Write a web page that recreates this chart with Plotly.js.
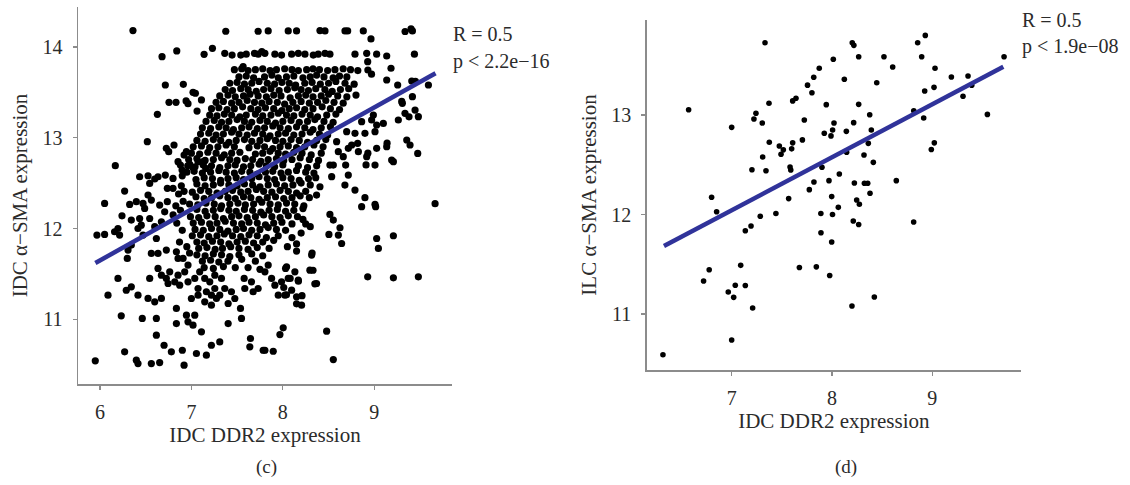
<!DOCTYPE html>
<html>
<head>
<meta charset="utf-8">
<script src="https://cdn.plot.ly/plotly-3.0.1.min.js"></script>
<style>html,body{margin:0;padding:0;background:#fff;}#chart{width:1130px;height:485px;}</style>
</head>
<body>
<div id="chart"></div>
<script>
// ---------- Panel (c): IDC DDR2 vs IDC alpha-SMA ----------
var idcOuter = [
[6.361,14.18],[7.376,14.173],[7.73,14.173],[7.84,14.176],[8.059,14.176],[8.15,14.176],[8.406,14.18],[8.461,14.176],[8.68,14.176],[8.709,14.176],[8.88,14.176],[9.337,14.17],[9.402,14.198],[9.417,14.176],
[8.964,14.088],
[6.679,13.893],[6.84,13.956],[7.139,13.919],[7.23,13.985],[7.365,13.93],[7.445,13.91],[7.54,13.91],[7.6,13.92],[7.69,13.93],[7.77,13.95],[7.731,13.92],[7.804,13.93],[7.913,13.92],[7.986,13.91],[8.096,13.92],[8.169,13.93],[8.242,13.92],[8.333,13.91],[8.387,13.92],[8.461,13.93],[8.515,13.92],[8.789,13.92],[8.917,13.93],[9.026,13.92],[9.136,13.9],[9.439,13.92],[8.928,13.838],
[7.566,13.783],[9.136,13.636],[9.183,13.765],[8.93,13.746],[8.97,13.70],
[9.256,13.581],[9.41,13.625],[9.592,13.581],[9.45,13.62],
[9.417,13.452],[9.307,13.379],[9.336,13.269],[9.446,13.305],[9.482,13.232],[9.263,13.195],[9.3,13.4],[9.38,13.23],
[9.026,13.14],[9.099,13.158],[9.008,13.067],[9.136,12.901],[9.026,12.883],[9.008,12.699],[9.19,12.754],[9.209,12.736],[9.355,12.975],[9.391,12.92],[9.475,12.827],[9.14,12.94],
[8.826,12.846],[8.917,12.791],[8.753,12.92],[8.716,12.883],[8.818,12.938],[8.93,12.83],[8.91,12.7],
[8.687,12.699],[8.716,12.589],[8.679,12.478],[8.789,12.423],[8.898,12.339],[8.862,12.24],[9.008,12.265],[9.015,12.24],
[9.665,12.273],
[8.515,12.155],[8.552,12.093],[8.625,12.008],[8.607,11.927],[8.504,11.935],[8.643,11.835],[9.026,11.89],[9.045,11.78],[9.209,11.92],
[8.928,11.468],[9.209,11.457],[9.482,11.468],
[8.315,11.707],[8.296,11.541],[8.369,11.394],[8.15,11.751],[8.169,11.431],[8.205,11.155],
[8.004,10.906],[7.968,10.832],[8.479,10.869],[8.552,10.556],
[7.804,10.659],[7.895,10.648],
[8.096,11.321],[7.986,11.413],[7.913,11.376],[8.059,11.45],[7.95,11.266],[8.023,11.266],[8.15,11.248],
[7.84,11.597],[7.804,11.523],[7.877,11.45],[8.041,11.578],[8.132,11.523],
[8.534,12.571],[8.369,12.368],[8.406,12.46],[8.515,12.699],[8.552,12.699],[8.661,12.791],
[8.607,12.846],[8.588,12.956],[8.698,13.067],[8.789,13.048],[8.898,13.048],
[8.862,13.177],[8.971,13.195],[8.99,13.25],
[8.3,12.02],[8.32,11.73],[8.33,11.54],[8.35,11.39],[8.21,11.26],[8.15,11.17],[8.04,11.27],[8.01,11.35],[8.17,11.42],[8.08,11.45],[8.03,11.56],
[8.1,11.9],[8.2,11.95],[8.15,11.83],[8.05,11.8],[8.25,12.05],[8.22,12.1],
[6.715,13.581],[6.912,13.588],[7.018,13.50],[7.044,13.49],[6.755,13.39],[6.832,13.39],[6.942,13.405],[6.963,13.375],[7.11,13.416],[7.062,13.294],[6.628,13.258],
[6.518,12.956],[6.726,12.883],[6.81,12.92],[6.752,12.846],[6.945,12.846],[6.92,12.809],
[6.168,12.692],[6.854,12.736],[6.88,12.699],[6.898,12.644],[6.982,12.706],[7.018,12.67],[7.073,12.736],[7.128,12.736],[7.157,12.662],
[6.434,12.57],[6.526,12.581],[6.599,12.545],[6.544,12.497],[6.635,12.57],[6.715,12.589],[6.799,12.552],[6.737,12.442],[6.799,12.442],
[6.27,12.412],[6.051,12.276],[6.325,12.265],[6.398,12.295],[6.471,12.276],[6.526,12.368],[6.562,12.313],[6.489,12.221],[6.653,12.258],[6.737,12.295],[6.708,12.184],
[6.241,12.14],[6.343,12.093],[6.434,12.11],[6.452,12.037],[6.544,12.11],
[5.967,11.927],[6.051,11.935],[6.16,11.964],[6.215,11.927],[6.197,12.0],[6.416,12.0],[6.471,11.927],[6.599,12.02],[6.672,12.074],[6.617,11.89],
[6.307,11.762],[6.343,11.817],[6.299,11.67],[6.562,11.725],[6.635,11.725],[6.726,11.762],
[6.197,11.45],[6.088,11.266],[6.288,11.32],[6.343,11.358],[6.416,11.266],[6.526,11.23],[6.599,11.192],[6.672,11.23],[6.544,11.45],[6.635,11.56],[6.672,11.486],[6.726,11.45],[6.745,11.394],[6.763,11.523],
[6.233,11.038],[6.463,11.009],[6.617,11.009],[6.617,10.825],[6.701,10.714],[6.27,10.641],[6.398,10.549],[6.416,10.512],[6.562,10.512],[6.653,10.523],[6.781,10.641],[6.92,10.494],[5.949,10.542],
[6.901,10.659],[7.055,10.623],[7.164,10.604],[7.219,10.714],[7.31,10.751],
[6.836,11.119],[6.946,11.045],[7.037,11.045],[7.018,10.935],[7.11,10.862],[6.836,10.953],[6.963,10.972],[7.402,10.953],[7.537,11.119],[7.548,11.009],[7.646,10.788],[7.639,10.696],[7.785,10.659],[7.402,11.174],[7.219,11.155],[7.274,11.23],[7.146,11.192],
[6.836,11.744],[6.854,11.67],[6.909,11.67],[6.963,11.597],[6.927,11.523],[6.854,11.486],[6.818,11.413],[6.872,11.376],[6.963,11.413],[7.037,11.45],[7.091,11.523],[7.146,11.45],[7.201,11.413],[7.256,11.486],[7.329,11.45],[7.073,11.339],[7.164,11.303],[7.256,11.339],[7.365,11.339],[7.438,11.303],[7.475,11.229],[7.577,11.45],[7.657,11.413],[7.73,11.339],[7.584,11.339],[7.675,11.303],[7.073,11.266],[7.0,11.229],[7.219,11.266],[7.31,11.266],
[6.86,12.38],[6.88,12.2],[6.84,12.06],[6.9,11.98],[6.8,12.15],[6.87,11.85],[6.95,11.8],[6.98,11.73],
[6.9,12.58],[6.91,12.3],[6.83,12.25],[6.89,12.47],
[7.7,11.64],[7.78,11.7],[7.62,11.57],[7.75,11.55]
];

// dense core of panel (c), read row by row
var idcCore = [
[7.47,13.75],[7.55,13.76],[7.62,13.74],[7.70,13.75],[7.78,13.76],[7.86,13.74],[7.93,13.75],[8.02,13.76],[8.10,13.75],[8.17,13.74],[8.26,13.75],[8.33,13.76],[8.40,13.75],[8.49,13.74],[8.57,13.75],[8.66,13.76],[8.74,13.75],[8.82,13.74],
[7.52,13.67],[7.60,13.68],[7.68,13.66],[7.80,13.67],[7.88,13.69],[7.95,13.66],[8.04,13.67],[8.12,13.68],[8.22,13.66],[8.30,13.67],[8.37,13.69],[8.45,13.67],[8.55,13.66],[8.62,13.68],[8.70,13.67],
[7.42,13.60],[7.50,13.61],[7.58,13.59],[7.66,13.60],[7.74,13.62],[7.83,13.60],[7.91,13.59],[7.99,13.61],[8.07,13.60],[8.14,13.58],[8.24,13.60],[8.32,13.61],[8.41,13.59],[8.50,13.60],[8.58,13.62],[8.68,13.60],[8.78,13.59],
[7.37,13.53],[7.45,13.52],[7.54,13.54],[7.62,13.53],[7.71,13.51],[7.79,13.53],[7.87,13.54],[7.96,13.52],[8.05,13.53],[8.13,13.55],[8.20,13.53],[8.28,13.52],[8.36,13.54],[8.46,13.53],[8.54,13.51],[8.63,13.53],[8.72,13.54],
[7.31,13.46],[7.40,13.47],[7.48,13.45],[7.57,13.46],[7.64,13.48],[7.73,13.46],[7.82,13.45],[7.90,13.47],[7.98,13.46],[8.08,13.44],[8.17,13.46],[8.25,13.47],[8.33,13.45],[8.42,13.46],[8.50,13.48],[8.60,13.46],[8.70,13.45],[8.80,13.47],
[7.27,13.39],[7.35,13.40],[7.44,13.38],[7.52,13.39],[7.61,13.41],[7.69,13.39],[7.77,13.38],[7.85,13.40],[7.94,13.39],[8.02,13.37],[8.11,13.39],[8.20,13.40],[8.29,13.38],[8.38,13.39],[8.47,13.41],[8.56,13.39],[8.66,13.38],
[7.22,13.32],[7.30,13.33],[7.39,13.31],[7.47,13.32],[7.56,13.34],[7.65,13.32],[7.73,13.31],[7.81,13.33],[7.90,13.32],[7.99,13.30],[8.07,13.32],[8.15,13.33],[8.24,13.31],[8.33,13.32],[8.43,13.34],[8.52,13.32],[8.62,13.31],
[7.20,13.25],[7.28,13.24],[7.36,13.26],[7.44,13.25],[7.53,13.23],[7.60,13.25],[7.70,13.26],[7.78,13.24],[7.87,13.25],[7.95,13.27],[8.04,13.25],[8.12,13.24],[8.21,13.26],[8.30,13.25],[8.38,13.23],[8.48,13.25],[8.58,13.26],
[7.16,13.18],[7.25,13.19],[7.33,13.17],[7.41,13.18],[7.50,13.20],[7.58,13.18],[7.66,13.17],[7.75,13.19],[7.83,13.18],[7.92,13.16],[8.00,13.18],[8.09,13.19],[8.18,13.17],[8.27,13.18],[8.35,13.20],[8.45,13.18],[8.55,13.17],
[7.12,13.11],[7.21,13.10],[7.30,13.12],[7.38,13.11],[7.46,13.09],[7.55,13.11],[7.63,13.12],[7.72,13.10],[7.80,13.11],[7.89,13.13],[7.97,13.11],[8.06,13.10],[8.15,13.12],[8.24,13.11],[8.33,13.09],[8.42,13.11],[8.52,13.12],
[7.10,13.04],[7.19,13.05],[7.27,13.03],[7.35,13.04],[7.44,13.06],[7.52,13.04],[7.61,13.03],[7.69,13.05],[7.78,13.04],[7.86,13.02],[7.95,13.04],[8.03,13.05],[8.12,13.03],[8.21,13.04],[8.30,13.06],[8.40,13.04],[8.49,13.03],
[7.06,12.97],[7.15,12.96],[7.24,12.98],[7.32,12.97],[7.41,12.95],[7.49,12.97],[7.58,12.98],[7.66,12.96],[7.75,12.97],[7.83,12.99],[7.92,12.97],[8.00,12.96],[8.09,12.98],[8.18,12.97],[8.27,12.95],[8.37,12.97],[8.47,12.98],
[7.02,12.90],[7.11,12.91],[7.20,12.89],[7.29,12.90],[7.38,12.92],[7.47,12.90],[7.63,12.89],[7.72,12.91],[7.80,12.90],[7.89,12.88],[7.97,12.90],[8.06,12.91],[8.15,12.89],[8.24,12.90],[8.34,12.92],[8.44,12.90],
[7.00,12.83],[7.09,12.82],[7.18,12.84],[7.27,12.83],[7.36,12.81],[7.44,12.83],[7.53,12.84],[7.70,12.82],[7.78,12.83],[7.86,12.85],[7.95,12.83],[8.03,12.82],[8.12,12.84],[8.21,12.83],[8.31,12.81],[8.42,12.83],
[6.97,12.76],[7.06,12.77],[7.15,12.75],[7.24,12.76],[7.33,12.78],[7.42,12.76],[7.50,12.75],[7.59,12.77],[7.67,12.76],[7.76,12.74],[7.84,12.76],[7.93,12.77],[8.01,12.75],[8.10,12.76],[8.19,12.78],[8.29,12.76],[8.39,12.75],
[6.96,12.69],[7.04,12.68],[7.13,12.70],[7.22,12.69],[7.31,12.67],[7.40,12.69],[7.48,12.70],[7.57,12.68],[7.65,12.69],[7.74,12.71],[7.82,12.69],[7.91,12.68],[8.00,12.70],[8.17,12.69],[8.27,12.67],[8.37,12.69],
[6.95,12.62],[7.03,12.63],[7.12,12.61],[7.21,12.62],[7.30,12.64],[7.38,12.62],[7.47,12.61],[7.55,12.63],[7.64,12.62],[7.72,12.60],[7.81,12.62],[7.89,12.63],[7.98,12.61],[8.06,12.62],[8.15,12.64],[8.25,12.62],[8.34,12.61],
[7.05,12.54],[7.14,12.56],[7.23,12.55],[7.32,12.53],[7.40,12.55],[7.49,12.56],[7.57,12.54],[7.66,12.55],[7.74,12.57],[7.83,12.55],[7.91,12.54],[8.00,12.56],[8.09,12.55],[8.18,12.53],[8.28,12.55],[8.36,12.56],
[7.06,12.49],[7.15,12.47],[7.24,12.48],[7.32,12.50],[7.41,12.48],[7.50,12.47],[7.58,12.49],[7.67,12.48],[7.75,12.46],[7.84,12.48],[7.93,12.49],[8.02,12.47],[8.11,12.48],[8.20,12.50],[8.30,12.48],
[6.92,12.41],[7.01,12.40],[7.10,12.42],[7.19,12.41],[7.28,12.39],[7.37,12.41],[7.45,12.42],[7.54,12.40],[7.62,12.41],[7.71,12.43],[7.79,12.41],[7.88,12.40],[7.97,12.42],[8.06,12.41],[8.15,12.39],[8.25,12.41],
[7.05,12.35],[7.14,12.33],[7.22,12.34],[7.31,12.36],[7.40,12.34],[7.48,12.33],[7.57,12.35],[7.65,12.34],[7.74,12.32],[7.83,12.34],[7.92,12.35],[8.01,12.33],[8.10,12.34],[8.19,12.36],[8.29,12.34],
[6.98,12.27],[7.07,12.26],[7.16,12.28],[7.25,12.27],[7.33,12.25],[7.42,12.27],[7.51,12.28],[7.59,12.26],[7.68,12.27],[7.77,12.29],[7.86,12.27],[7.95,12.26],[8.04,12.28],[8.13,12.27],[8.23,12.25],
[7.06,12.21],[7.15,12.19],[7.24,12.20],[7.32,12.22],[7.41,12.20],[7.49,12.19],[7.58,12.21],[7.67,12.20],[7.76,12.18],[7.85,12.20],[7.94,12.21],[8.03,12.19],[8.12,12.20],[8.22,12.22],
[6.99,12.13],[7.08,12.12],[7.17,12.14],[7.26,12.13],[7.35,12.11],[7.44,12.13],[7.52,12.14],[7.61,12.12],[7.70,12.13],[7.79,12.15],[7.88,12.13],[7.97,12.12],[8.06,12.14],[8.16,12.13],
[7.02,12.06],[7.11,12.07],[7.20,12.05],[7.28,12.06],[7.37,12.08],[7.46,12.06],[7.55,12.05],[7.63,12.07],[7.72,12.06],[7.81,12.04],[7.90,12.06],[7.99,12.07],[8.10,12.05],
[7.04,11.99],[7.13,11.98],[7.22,12.00],[7.31,11.99],[7.40,11.97],[7.49,11.99],[7.57,12.00],[7.66,11.98],[7.75,11.99],[7.84,12.01],[7.93,11.99],[8.03,11.98],
[7.01,11.92],[7.10,11.93],[7.19,11.91],[7.28,11.92],[7.36,11.94],[7.45,11.92],[7.54,11.91],[7.63,11.93],[7.72,11.92],[7.82,11.90],[7.95,11.92],
[7.06,11.85],[7.14,11.84],[7.23,11.86],[7.32,11.85],[7.41,11.83],[7.50,11.85],[7.59,11.86],[7.68,11.84],[7.78,11.85],[7.90,11.87],
[7.08,11.78],[7.17,11.79],[7.26,11.77],[7.34,11.78],[7.43,11.80],[7.52,11.78],[7.62,11.77],[7.72,11.79],[7.85,11.78],
[7.06,11.71],[7.15,11.70],[7.24,11.72],[7.33,11.71],[7.42,11.69],[7.52,11.71],[7.66,11.72],
[7.12,11.64],[7.21,11.65],[7.30,11.63],[7.40,11.64],[7.55,11.66],
[7.14,11.57],[7.24,11.56],[7.35,11.58],[7.48,11.57]
];

// fitted line of panel (c), end points
var idcLineX = [5.95, 9.67];
var idcLineY = [11.62, 13.71];

// ---------- Panel (d): IDC DDR2 vs ILC alpha-SMA ----------
var ilcX = [7.332,8.013,7.873,7.818,7.756,7.80,6.571,7.372,7.608,7.641,7.943,7.242,7.222,7.305,7.0,7.724,8.02,8.006,7.923,7.99,
7.375,7.475,7.515,7.492,7.608,7.598,7.705,7.309,7.202,7.342,7.582,7.589,7.9,7.82,7.97,7.774,7.997,6.80,7.568,6.85,
7.441,7.285,7.193,7.136,7.889,8.005,7.89,7.997,7.09,6.776,7.675,7.844,7.977,6.72,7.036,7.136,6.966,7.02,7.209,7.0,6.315,
8.202,8.218,8.266,8.518,8.605,8.123,8.446,8.854,8.93,8.894,9.027,9.19,9.356,9.393,9.715,8.924,9.017,9.306,8.266,8.376,
8.815,8.914,9.549,8.216,8.143,8.392,8.362,8.146,8.319,8.412,9.020,8.99,8.073,8.223,8.323,8.356,8.641,8.379,8.246,8.273,
8.063,8.212,8.266,8.814,8.422,8.199];
var ilcY = [13.727,13.56,13.47,13.379,13.30,13.224,13.053,13.118,13.142,13.169,13.104,13.017,12.96,12.92,12.876,12.95,12.92,12.85,12.816,12.79,
12.726,12.689,12.65,12.606,12.72,12.66,12.75,12.578,12.45,12.44,12.477,12.447,12.475,12.327,12.34,12.25,12.18,12.173,12.16,12.028,
12.01,11.982,11.884,11.837,12.01,12.0,11.817,11.724,11.489,11.445,11.467,11.474,11.387,11.332,11.289,11.286,11.221,11.167,11.06,10.739,10.591,
13.727,13.70,13.586,13.586,13.482,13.359,13.325,13.727,13.80,13.586,13.47,13.382,13.392,13.30,13.586,13.241,13.278,13.188,13.107,13.003,
13.043,12.97,13.006,12.923,12.836,12.85,12.715,12.625,12.598,12.524,12.72,12.653,12.407,12.317,12.314,12.314,12.34,12.213,12.146,12.103,
12.072,11.935,11.90,11.925,11.171,11.08];

var ilcLineX = [6.325, 9.708];
var ilcLineY = [11.683, 13.485];

var idcTicks = [6,7,8,9];
var idcYTicks = [11,12,13,14];
var ilcTicks = [7,8,9];
var ilcYTicks = [11,12,13];

// ---------- build ----------
var idcAll = idcOuter.concat(idcCore);
var FONT = "Liberation Serif, Times New Roman, serif";
var TXT = "#2b2b2b";
var AX = "#8c8c8c";
var BLUE = "#30339a";

var traces = [
  {type:'scatter', mode:'markers', x: idcAll.map(function(p){return p[0];}), y: idcAll.map(function(p){return p[1];}),
   xaxis:'x', yaxis:'y', marker:{color:'#000', size:7.2, line:{width:0}}},
  {type:'scatter', mode:'lines', x: idcLineX, y: idcLineY, xaxis:'x', yaxis:'y', line:{color:BLUE, width:4.5}},
  {type:'scatter', mode:'markers', x: ilcX, y: ilcY, xaxis:'x2', yaxis:'y2', marker:{color:'#000', size:5.6, line:{width:0}}},
  {type:'scatter', mode:'lines', x: ilcLineX, y: ilcLineY, xaxis:'x2', yaxis:'y2', line:{color:BLUE, width:4.5}}
];

function axisBase(extra){
  var a = {showline:true, linecolor:AX, linewidth:1.5, ticks:'outside', ticklen:4, tickwidth:1.2, tickcolor:AX,
    showgrid:false, zeroline:false, tickfont:{family:FONT, size:20, color:TXT}, fixedrange:true};
  for (var k in extra) a[k] = extra[k];
  return a;
}

var W = 1130, H = 485;
function px(x){return x/W;}
function py(y){return 1 - y/H;}

var layout = {
  width:W, height:H, margin:{l:0,r:0,t:0,b:0}, paper_bgcolor:'#fff', plot_bgcolor:'#fff', showlegend:false,
  font:{family:FONT, color:TXT},
  xaxis: axisBase({domain:[px(78), px(452)], range:[5.76, 9.85], tickvals:idcTicks, anchor:'y', ticklabelstandoff:5,
     title:{text:'IDC DDR2 expression', font:{family:FONT, size:21, color:TXT}, standoff:6}}),
  yaxis: axisBase({domain:[py(384), py(7)], range:[10.287, 14.44], tickvals:idcYTicks, anchor:'x', ticklabelstandoff:6,
     title:{text:'IDC α−SMA expression', font:{family:FONT, size:21, color:TXT}, standoff:9}}),
  xaxis2: axisBase({domain:[px(646.7), px(1021)], range:[6.153, 9.884], tickvals:ilcTicks, anchor:'y2', ticklabelstandoff:5,
     title:{text:'IDC DDR2 expression', font:{family:FONT, size:21, color:TXT}, standoff:6}}),
  yaxis2: axisBase({domain:[py(370), py(20)], range:[10.437, 13.955], tickvals:ilcYTicks, anchor:'x2', ticklabelstandoff:6,
     title:{text:'ILC α−SMA expression', font:{family:FONT, size:21, color:TXT}, standoff:9}}),
  annotations: [
    {xref:'paper', yref:'paper', x:px(451), y:py(34), xanchor:'left', yanchor:'middle', showarrow:false, text:'R = 0.5', font:{family:FONT, size:20, color:TXT}},
    {xref:'paper', yref:'paper', x:px(451), y:py(62), xanchor:'left', yanchor:'middle', showarrow:false, text:'p < 2.2e−16', font:{family:FONT, size:20, color:TXT}},
    {xref:'paper', yref:'paper', x:px(1020), y:py(20), xanchor:'left', yanchor:'middle', showarrow:false, text:'R = 0.5', font:{family:FONT, size:20, color:TXT}},
    {xref:'paper', yref:'paper', x:px(1020), y:py(47), xanchor:'left', yanchor:'middle', showarrow:false, text:'p < 1.9e−08', font:{family:FONT, size:20, color:TXT}},
    {xref:'paper', yref:'paper', x:px(266), y:py(467), xanchor:'center', yanchor:'middle', showarrow:false, text:'(c)', font:{family:FONT, size:19, color:TXT}},
    {xref:'paper', yref:'paper', x:px(846), y:py(467), xanchor:'center', yanchor:'middle', showarrow:false, text:'(d)', font:{family:FONT, size:19, color:TXT}}
  ]
};

Plotly.newPlot('chart', traces, layout, {displayModeBar:false, staticPlot:true});
</script>
</body>
</html>
